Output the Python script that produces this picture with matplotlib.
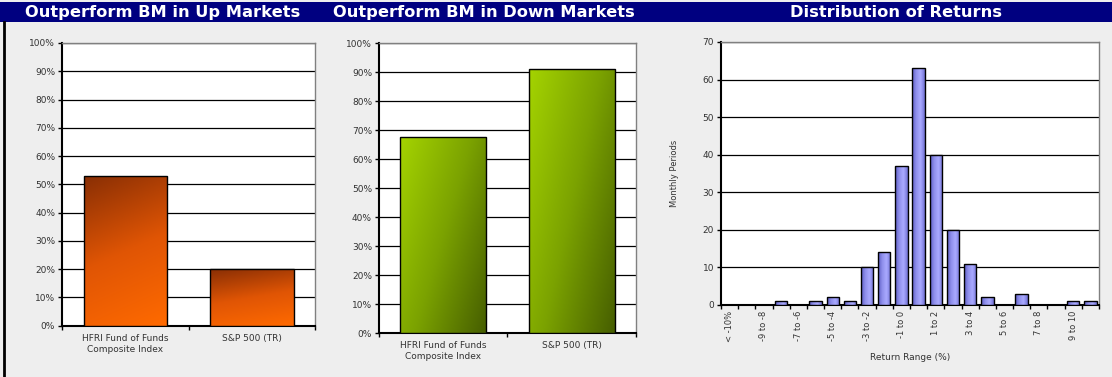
import numpy as np
import matplotlib.pyplot as plt
from matplotlib.colors import LinearSegmentedColormap
from matplotlib.lines import Line2D
from matplotlib.patches import Rectangle

# data
funds = ["HFRI Fund of Funds\nComposite Index", "S&P 500 (TR)"]
up_markets = [53, 20]
down_markets = [67.5, 91]

ranges = ["< -10%", "-10 to -9", "-9 to -8", "-8 to -7", "-7 to -6", "-6 to -5",
          "-5 to -4", "-4 to -3", "-3 to -2", "-2 to -1", "-1 to 0", "0 to 1",
          "1 to 2", "2 to 3", "3 to 4", "4 to 5", "5 to 6", "6 to 7",
          "7 to 8", "8 to 9", "9 to 10", "> 10%"]
periods = [0, 0, 0, 1, 0, 1, 2, 1, 10, 14, 37, 63, 40, 20, 11, 2, 0, 3, 0, 0, 1, 1]

BG = "#eeeeee"
NAVY = "#000080"
FS = 6.5

orange = LinearSegmentedColormap.from_list("o", ["#ff6a00", "#e05505", "#8a2f04"])
green = LinearSegmentedColormap.from_list("g", ["#465e00", "#7ba200", "#a4d300"])
blue = LinearSegmentedColormap.from_list("b", ["#5c5cc4", "#9090ec", "#aaaaff", "#7070d4"])


def grad_img(kind):
    yy, xx = np.mgrid[0:1:60j, 0:1:60j]
    if kind == "orange":
        return 0.8 * yy + 0.2 * (1 - xx)
    if kind == "green":
        return 0.4 * yy + 0.6 * (1 - xx)
    return np.tile(np.linspace(0.15, 1.0, 60), (60, 1))


def gradient_bars(ax, x, vals, width, cmap, kind):
    bars = ax.bar(x, vals, width=width, facecolor="none", edgecolor="black",
                  linewidth=1.0, zorder=4)
    for b in bars:
        x0, w, h = b.get_x(), b.get_width(), b.get_height()
        if h <= 0:
            continue
        im = ax.imshow(grad_img(kind), cmap=cmap, extent=(x0, x0 + w, 0, h),
                       origin="lower", aspect="auto", zorder=3, interpolation="bilinear")
        im.set_clip_path(Rectangle((x0, 0), w, h, transform=ax.transData))
    return bars


def style_axes(ax):
    ax.set_facecolor("white")
    for s in ["top", "right"]:
        ax.spines[s].set_color("#808080")
        ax.spines[s].set_linewidth(1.0)
    for s in ["left", "bottom"]:
        ax.spines[s].set_color("black")
        ax.spines[s].set_linewidth(1.5)
    ax.tick_params(axis="y", length=3, width=1, labelsize=FS, colors="black",
                   labelcolor="#333333", pad=2)
    ax.tick_params(axis="x", which="major", length=0, labelsize=FS,
                   labelcolor="#333333", pad=6)
    ax.tick_params(axis="x", which="minor", length=3, width=1, direction="out")
    ax.grid(axis="y", color="black", linewidth=0.9, zorder=1)
    ax.set_axisbelow(True)


fig = plt.figure(figsize=(11.12, 3.77), dpi=100, facecolor=BG)

# header band
fig.patches.append(Rectangle((0, 0.9416), 1, 0.053, transform=fig.transFigure,
                             facecolor=NAVY, edgecolor="none", zorder=0))
fig.lines.append(Line2D([0.004, 0.004], [0, 0.9416], transform=fig.transFigure,
                        color="black", linewidth=2))
fig.text(0.0225, 0.968, "Outperform BM in Up Markets", color="white",
         fontsize=11.7, fontweight="bold", va="center", ha="left")
fig.text(0.2995, 0.968, "Outperform BM in Down Markets", color="white",
         fontsize=11.7, fontweight="bold", va="center", ha="left")
fig.text(0.806, 0.968, "Distribution of Returns", color="white",
         fontsize=11.7, fontweight="bold", va="center", ha="center")

pct_ticks = np.arange(0, 101, 10)
pct_labels = [f"{t}%" for t in pct_ticks]

# up markets
ax1 = fig.add_axes([0.0558, 0.136, 0.2275, 0.750])
style_axes(ax1)
x = np.arange(len(funds))
gradient_bars(ax1, x, up_markets, 0.66, orange, "orange")
ax1.set_xlim(-0.5, len(funds) - 0.5)
ax1.set_ylim(0, 100)
ax1.set_yticks(pct_ticks)
ax1.set_yticklabels(pct_labels)
ax1.set_xticks(x)
ax1.set_xticklabels(funds, linespacing=1.3)
ax1.set_xticks(np.arange(-0.5, len(funds)), minor=True)

# down markets
ax2 = fig.add_axes([0.3408, 0.1167, 0.2311, 0.769])
style_axes(ax2)
gradient_bars(ax2, x, down_markets, 0.67, green, "green")
ax2.set_xlim(-0.5, len(funds) - 0.5)
ax2.set_ylim(0, 100)
ax2.set_yticks(pct_ticks)
ax2.set_yticklabels(pct_labels)
ax2.set_xticks(x)
ax2.set_xticklabels(funds, linespacing=1.3)
ax2.set_xticks(np.arange(-0.5, len(funds)), minor=True)

# distribution of returns
ax3 = fig.add_axes([0.6484, 0.191, 0.3399, 0.6976])
style_axes(ax3)
xr = np.arange(len(ranges))
gradient_bars(ax3, xr, periods, 0.72, blue, "blue")
ax3.set_xlim(-0.5, len(ranges) - 0.5)
ax3.set_ylim(0, 70)
ax3.set_yticks(np.arange(0, 71, 10))
ax3.set_xticks(xr)
ax3.set_xticklabels([r if i % 2 == 0 else "" for i, r in enumerate(ranges)],
                    rotation=90, fontsize=6)
ax3.tick_params(axis="x", which="major", pad=4)
ax3.set_xticks(np.arange(-0.5, len(ranges)), minor=True)
ax3.set_xlabel("Return Range (%)", fontsize=FS, color="#333333", labelpad=8)
ax3.set_ylabel("Monthly Periods", fontsize=6, color="#333333", labelpad=17)

fig.savefig("out.png", dpi=100, facecolor=BG)
